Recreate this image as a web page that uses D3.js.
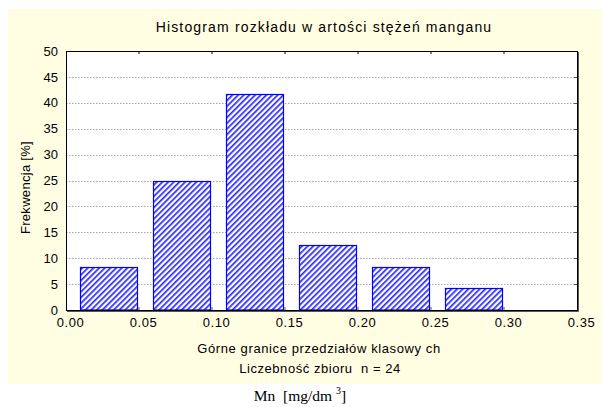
<!DOCTYPE html>
<html>
<head>
<meta charset="utf-8">
<script src="https://cdn.jsdelivr.net/npm/d3@7"></script>
<style>
  body { margin: 0; background: #fff; }
  text { font-family: "Liberation Sans", Arial, sans-serif; fill: #000; white-space: pre; }
</style>
</head>
<body>
<div id="chart"></div>
<script>
// class upper bounds and frequencies [%] (n = 24)
var upperBounds = [0.05, 0.10, 0.15, 0.20, 0.25, 0.30];
var frequencies = [8.33, 25.0, 41.67, 12.5, 8.33, 4.17];
var xTicks = [0.00, 0.05, 0.10, 0.15, 0.20, 0.25, 0.30, 0.35];
var yTicks = [0, 5, 10, 15, 20, 25, 30, 35, 40, 45, 50];

var titleText = "Histogram rozkładu w artości stężeń manganu";
var yTitle = "Frekwencja [%]";
var xTitle = "Górne granice przedziałów klasowy ch";
var countText = "Liczebność zbioru  n = 24";

var W = 602, H = 407;
var margin = { top: 51, right: 25, bottom: 97, left: 66 };
var width = W - margin.left - margin.right,
    height = H - margin.top - margin.bottom;

var svg = d3.select("#chart").append("svg")
    .attr("width", W)
    .attr("height", H);

// hatch pattern
var defs = svg.append("defs");
var pat = defs.append("pattern")
    .attr("id", "hatch")
    .attr("patternUnits", "userSpaceOnUse")
    .attr("width", 4)
    .attr("height", 4)
    .attr("patternTransform", "rotate(45)");
pat.append("rect").attr("width", 4).attr("height", 4).attr("fill", "#fff");
pat.append("rect").attr("width", 1.7).attr("height", 4).attr("fill", "#2a2aff");

// yellow panel
svg.append("rect")
    .attr("x", 8).attr("y", 9)
    .attr("width", W - 8).attr("height", 375)
    .attr("fill", "#fffde2");

var g = svg.append("g")
    .attr("transform", "translate(" + margin.left + "," + margin.top + ")");

var x = d3.scaleLinear().domain([0, 0.35]).range([0, width]);
var y = d3.scaleLinear().domain([0, 50]).range([height, 0]);

g.append("rect")
    .attr("width", width).attr("height", height)
    .attr("fill", "#fff");

// grid
g.selectAll(".grid").data(yTicks.filter(d => d > 0 && d < 50))
  .enter().append("line")
    .attr("class", "grid")
    .attr("x1", 0).attr("x2", width)
    .attr("y1", d => Math.round(y(d)) + 0.5)
    .attr("y2", d => Math.round(y(d)) + 0.5)
    .attr("stroke", "#a8a8a8")
    .attr("stroke-dasharray", "1.5,1.5");

// bars
var gapL = 0.0095, gapR = 0.0015;
g.selectAll(".bar").data(frequencies)
  .enter().append("rect")
    .attr("class", "bar")
    .attr("x", (d, i) => Math.round(x(upperBounds[i] - 0.05 + gapL)) + 0.5)
    .attr("width", (d, i) => Math.round(x(upperBounds[i] - gapR)) - Math.round(x(upperBounds[i] - 0.05 + gapL)))
    .attr("y", d => Math.round(y(d)) + 0.5)
    .attr("height", d => height - Math.round(y(d)) - 0.5)
    .attr("fill", "url(#hatch)")
    .attr("stroke", "#0000ff")
    .attr("stroke-width", 1.2);

// axes
var xAxis = d3.axisBottom(x).tickValues(xTicks).tickSize(0).tickPadding(8)
    .tickFormat(d3.format(".2f"));
var yAxis = d3.axisLeft(y).tickValues(yTicks).tickSize(0).tickPadding(8);

var gx = g.append("g").attr("transform", "translate(0," + height + ")").call(xAxis);
gx.select(".domain").remove();
gx.selectAll("text")
    .attr("dx", 4)
    .style("font-size", "13px")
    .style("letter-spacing", "0.6px");

var gy = g.append("g").call(yAxis);
gy.select(".domain").remove();
gy.selectAll("text").style("font-size", "13px");

// inner ticks top / bottom / right
g.selectAll(".tt").data(xTicks.slice(1, -1)).enter().append("line")
    .attr("x1", d => x(d)).attr("x2", d => x(d))
    .attr("y1", 0).attr("y2", 3)
    .attr("stroke", "#000");
g.selectAll(".tb").data(xTicks.slice(1, -1)).enter().append("line")
    .attr("x1", d => x(d)).attr("x2", d => x(d))
    .attr("y1", height).attr("y2", height - 3)
    .attr("stroke", "#555");
g.selectAll(".tr").data(yTicks.slice(1, -1)).enter().append("line")
    .attr("x1", width).attr("x2", width - 3)
    .attr("y1", d => Math.round(y(d)) + 0.5).attr("y2", d => Math.round(y(d)) + 0.5)
    .attr("stroke", "#555");

// frame
g.append("rect")
    .attr("x", 0.5).attr("y", 0.5)
    .attr("width", width).attr("height", height)
    .attr("fill", "none")
    .attr("stroke", "#000");
g.append("path")
    .attr("d", "M" + (width + 1.5) + ",1V" + (height + 1.5) + "H1")
    .attr("fill", "none")
    .attr("stroke", "#555");

// titles
svg.append("text")
    .attr("x", 324).attr("y", 32)
    .attr("text-anchor", "middle")
    .style("font-size", "14px")
    .style("letter-spacing", "1.15px")
    .text(titleText);

svg.append("text")
    .attr("transform", "translate(30,187.5) rotate(-90)")
    .attr("text-anchor", "middle")
    .style("font-size", "13px")
    .style("letter-spacing", "0.3px")
    .text(yTitle);

svg.append("text")
    .attr("x", 319).attr("y", 353)
    .attr("text-anchor", "middle")
    .style("font-size", "13px")
    .style("letter-spacing", "0.6px")
    .text(xTitle);

svg.append("text")
    .attr("x", 320).attr("y", 373)
    .attr("text-anchor", "middle")
    .style("font-size", "13px")
    .style("letter-spacing", "0.55px")
    .text(countText);

var unit = svg.append("text")
    .attr("x", 300).attr("y", 401)
    .attr("text-anchor", "middle")
    .style("font-family", "'Liberation Serif', 'Times New Roman', serif")
    .style("font-size", "15.5px");
unit.append("tspan").text("Mn  [mg/dm ");
unit.append("tspan").attr("dy", -7).style("font-size", "10px").text("3");
unit.append("tspan").attr("dy", 7).text("]");
</script>
</body>
</html>
